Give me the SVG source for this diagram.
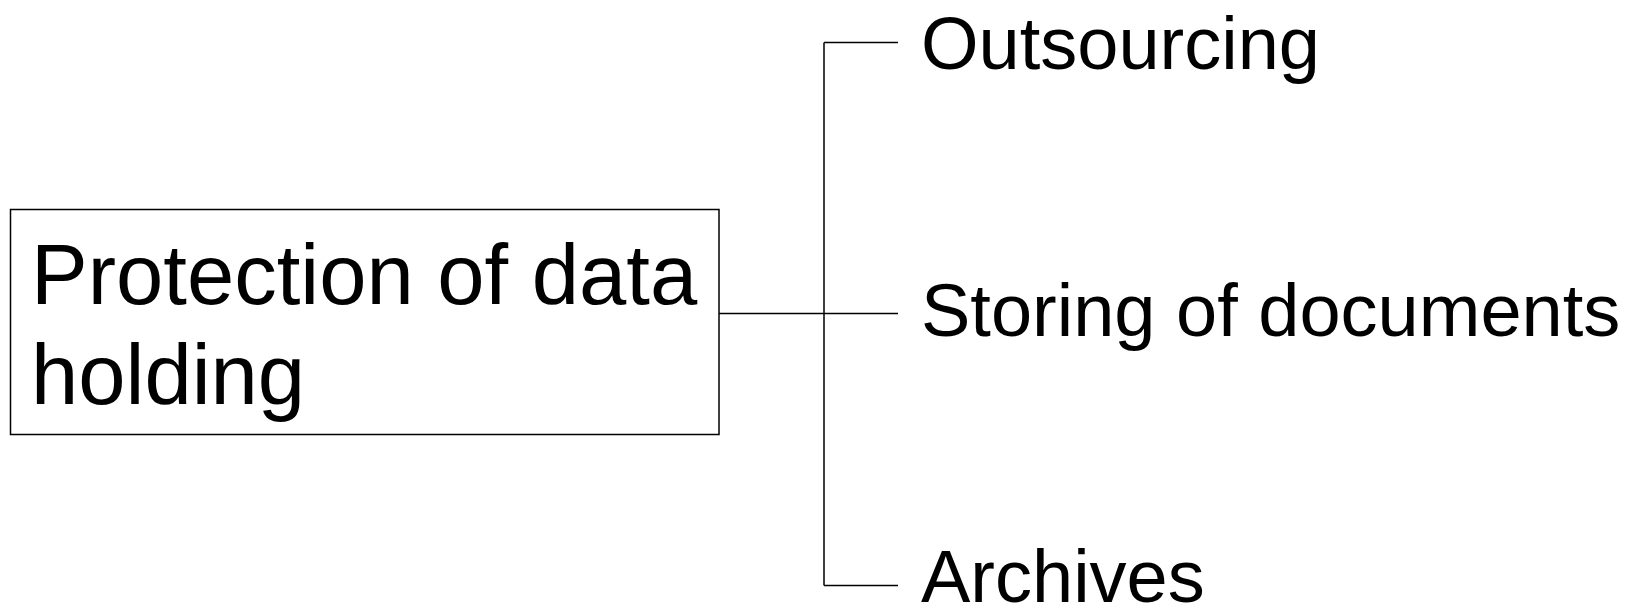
<svg xmlns="http://www.w3.org/2000/svg" width="1634" height="609" viewBox="0 0 1634 609">
<style>
.t{font-family:"Liberation Sans",Arial,sans-serif;fill:#000}
.big{font-size:85px}
.lbl{font-size:74px}
.ln{stroke:#000;stroke-width:1.5;fill:none}
</style>
<rect width="1634" height="609" fill="#fff"/>
<g id="connectors">
<path class="ln" d="M719 313.5H898M824 42.5V585.5M824 42.5H898M824 585.5H898"/>
</g>
<g id="root">
<rect class="ln" x="10.5" y="209.5" width="708.5" height="225"/>
<text class="t big" x="31" y="304">Protection of data</text>
<text class="t big" x="31" y="404">holding</text>
</g>
<g id="n1"><text class="t lbl" x="921" y="69">Outsourcing</text></g>
<g id="n2"><text class="t lbl" x="921" y="336">Storing of documents</text></g>
<g id="n3"><text class="t lbl" x="921" y="602">Archives</text></g>
</svg>
